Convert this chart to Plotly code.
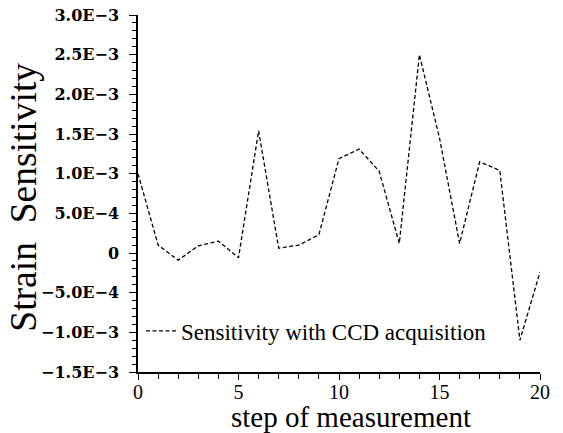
import plotly.graph_objects as go

steps = list(range(21))
sensitivity = [1.0e-3, 1.0e-4, -9e-5, 9e-5, 1.5e-4, -6e-5, 1.54e-3, 6e-5, 1.0e-4, 2.3e-4,
               1.19e-3, 1.31e-3, 1.03e-3, 1.2e-4, 2.50e-3, 1.45e-3, 1.2e-4, 1.15e-3, 1.04e-3,
               -1.10e-3, -2.4e-4]
series_name = "Sensitivity with CCD acquisition"
y_tickvals = [-1.5e-3, -1.0e-3, -5.0e-4, 0, 5.0e-4, 1.0e-3, 1.5e-3, 2.0e-3, 2.5e-3, 3.0e-3]
y_ticktext = ["\u22121.5E\u22123", "\u22121.0E\u22123", "\u22125.0E\u22124", "0", "5.0E\u22124",
              "1.0E\u22123", "1.5E\u22123", "2.0E\u22123", "2.5E\u22123", "3.0E\u22123"]
x_tickvals = [0, 5, 10, 15, 20]
x_title = "step of measurement"
y_title = "Strain  Sensitivity"

fig = go.Figure()
fig.add_trace(go.Scatter(
    x=steps, y=sensitivity, mode="lines", name=series_name,
    line=dict(color="black", width=1.3, dash="4px,2.5px"),
))

serif = "Liberation Serif"
fig.update_layout(
    width=563, height=433,
    margin=dict(l=138, r=23, t=15, b=61),
    paper_bgcolor="white", plot_bgcolor="white",
    showlegend=True,
    legend=dict(x=0.0075, y=0.115, xanchor="left", yanchor="middle",
                bgcolor="rgba(0,0,0,0)", font=dict(family=serif, size=23, color="black"),
                itemwidth=30, tracegroupgap=0),
    xaxis=dict(
        range=[0, 20], tickvals=x_tickvals, ticks="outside", ticklen=6, tickwidth=1.2,
        tickcolor="black", showline=True, linecolor="black", linewidth=1.5,
        showgrid=False, zeroline=False, automargin=False, ticklabelstandoff=-5,
        ticklabeloverflow="allow",
        tickfont=dict(family=serif, size=20, color="black"),
        minor=dict(dtick=1, ticks="outside", ticklen=5, tickcolor="black", tickwidth=1.2),
    ),
    yaxis=dict(
        range=[-1.5e-3, 3.0e-3], tickvals=y_tickvals, ticktext=y_ticktext,
        ticks="outside", ticklen=7, tickwidth=1.2, tickcolor="black",
        showline=True, linecolor="black", linewidth=1.5,
        showgrid=False, zeroline=False, automargin=False, ticklabelstandoff=7,
        ticklabeloverflow="allow",
        tickfont=dict(family="DejaVu Serif", size=16, color="black", weight="bold"),
        minor=dict(dtick=1e-4, tick0=0, ticks="outside", ticklen=4, tickcolor="black", tickwidth=1.2),
    ),
    annotations=[
        dict(text=x_title, xref="paper", yref="paper", x=0.530, y=-0.126,
             xanchor="center", yanchor="middle", showarrow=False,
             font=dict(family=serif, size=29, color="black")),
        dict(text=y_title, xref="paper", yref="paper", x=-0.287, y=0.49,
             xanchor="center", yanchor="middle", showarrow=False, textangle=-90,
             font=dict(family=serif, size=37.5, color="black")),
    ],
)

# remove the page's default body margin so the figure fills the window exactly
fig.write_html("out.html", config={"displayModeBar": False},
               post_script="document.body.style.margin='0';")
